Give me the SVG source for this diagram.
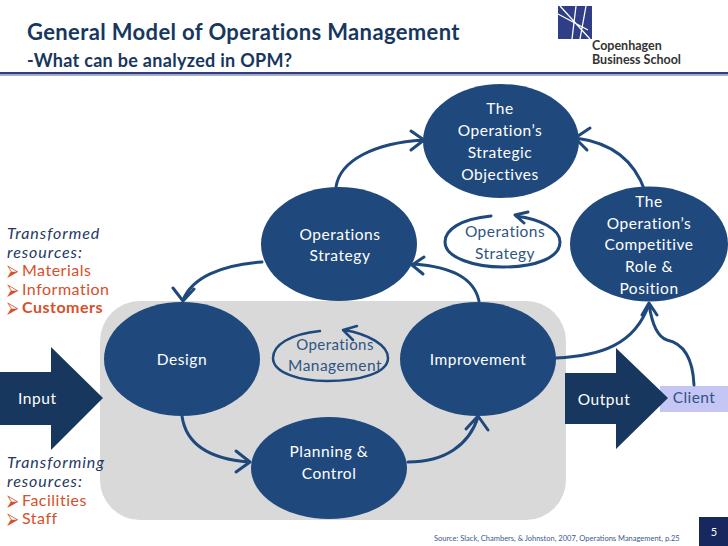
<svg xmlns="http://www.w3.org/2000/svg" width="728" height="546" viewBox="0 0 728 546">
<style>
text{font-family:"Lato","Open Sans","Liberation Sans",sans-serif}
.n{fill:#1f497d}
.w{fill:#fff;font-size:15.5px;text-anchor:middle;letter-spacing:.55px}
.d{fill:#2f5583;font-size:15.5px;text-anchor:middle;letter-spacing:.45px}
.c{fill:none;stroke:#1f497d;stroke-width:3;stroke-linecap:round;stroke-linejoin:round}
.o{fill:#d6502a;font-size:16px;letter-spacing:.5px}
.i{fill:#1f3864;font-size:16px;font-style:italic;letter-spacing:.95px}
.t{fill:#17375e;font-weight:700}
</style>
<rect width="728" height="546" fill="#fff"/>
<g id="header">
<text x="27" y="40" class="t" font-size="22" letter-spacing=".37">General Model of Operations Management</text>
<text x="27" y="67" class="t" font-size="18" letter-spacing=".3">-What can be analyzed in OPM?</text>
<rect x="0" y="72" width="728" height="2.500" fill="#2f3e7e"/>
<rect x="0" y="74.500" width="728" height="1.500" fill="#a9b2cf"/>
</g>
<g id="logo">
<rect x="558" y="6" width="34" height="33" fill="#2f3e86"/>
<path d="M560 6L590 39M558 14L588 30M576 6L572 39M586 6L580 39" stroke="#fff" stroke-width="1.300" fill="none"/>
<text x="592" y="50" font-size="12.500" font-weight="700" fill="#333">Copenhagen</text>
<text x="592" y="64" font-size="12.500" font-weight="700" fill="#333">Business School</text>
</g>
<rect id="panel" x="100" y="301" width="466" height="219" rx="40" fill="#d9d9d9"/>
<g id="input"><path d="M0 372H51V347L103 398L51 450V425H0Z" fill="#17375e"/><text x="18" y="404" class="w" style="text-anchor:start">Input</text></g>
<g id="client"><rect x="660" y="386" width="68" height="26" fill="#c6c6f5"/><text x="694" y="403" class="d">Client</text></g>
<g id="output"><path d="M565 373H616V348L668 398L616 449V424H565Z" fill="#17375e"/><text x="604" y="405" class="w">Output</text></g>
<g id="objectives"><ellipse cx="501" cy="141" rx="78" ry="57" class="n"/><text class="w" x="500" y="114">The</text><text class="w" x="500" y="136">Operation’s</text><text class="w" x="500" y="158">Strategic</text><text class="w" x="500" y="180">Objectives</text></g>
<g id="strategy"><ellipse cx="339" cy="244" rx="78" ry="57" class="n"/><text class="w" x="340" y="240">Operations</text><text class="w" x="340" y="261">Strategy</text></g>
<g id="competitive"><ellipse cx="649" cy="244" rx="79" ry="57.500" class="n"/><text class="w" x="649" y="207">The</text><text class="w" x="649" y="229">Operation’s</text><text class="w" x="649" y="250">Competitive</text><text class="w" x="649" y="272">Role &amp;</text><text class="w" x="649" y="294">Position</text></g>
<g id="design"><ellipse cx="182" cy="359" rx="78" ry="57" class="n"/><text class="w" x="182" y="365">Design</text></g>
<g id="improvement"><ellipse cx="478" cy="359" rx="78" ry="57" class="n"/><text class="w" x="478" y="365">Improvement</text></g>
<g id="planning"><ellipse cx="329" cy="468" rx="78" ry="51" class="n"/><text class="w" x="329" y="457">Planning &amp;</text><text class="w" x="329" y="479">Control</text></g>
<g id="connectors" class="c">
<path d="M336 187C340 160 375 143 423 140M411 131L424 140L411 150"/>
<path d="M645 191C634 160 612 143 576 138M590 128L575 138L587 150"/>
<path d="M262 262C220 265 192 278 183 300M173 288L183 301L194 289"/>
<path d="M182 416C186 445 210 459 249 462M236 451L250 462L236 472"/>
<path d="M408 462C445 462 469 445 478 417M466 429L478 416L488 430"/>
<path d="M479 301C474 278 452 267 414 264M424 257L412 265L423 274"/>
<path d="M556 358C600 356 635 345 649 304"/>
<path d="M694 385C693 362 686 344 667 340C658 337 652 325 649 304M642 315L649 303L657 315"/>
<path d="M491 216C460 219 445 230 445 242C445 258 475 267 503 267C535 267 560 258 560 242C560 229 540 219 516 216M528 212L515 215L524 223"/>
<path d="M320 331C290 334 273 345 273 358C273 373 300 381 327 381C360 381 388 373 388 358C388 345 368 334 344 330M357 326L343 330L353 340" stroke-width="2.500"/>
</g>
<text class="d" x="505" y="237">Operations</text>
<text class="d" x="505" y="259">Strategy</text>
<text class="d" x="335" y="350" style="font-size:15px">Operations</text>
<text class="d" x="335" y="371">Management</text>
<g id="transformed">
<text class="i" x="7" y="239">Transformed</text><text class="i" x="7" y="258">resources:</text>
<text class="o" x="7" y="276">⮚<tspan x="22">Materials</tspan></text>
<text class="o" x="7" y="295">⮚<tspan x="22">Information</tspan></text>
<text class="o" x="7" y="313">⮚<tspan x="22" font-weight="700">Customers</tspan></text>
</g>
<g id="transforming">
<text class="i" x="7" y="468">Transforming</text><text class="i" x="7" y="487">resources:</text>
<text class="o" x="7" y="506">⮚<tspan x="22">Facilities</tspan></text>
<text class="o" x="7" y="524">⮚<tspan x="22">Staff</tspan></text>
</g>
<text id="source" x="434" y="541" font-size="7.500" fill="#3b5a8a">Source: Slack, Chambers, &amp; Johnston, 2007, Operations Management, p.25</text>
<g id="page"><rect x="699" y="517" width="29" height="29" fill="#17285f"/><text x="714" y="536" fill="#fff" font-size="11" text-anchor="middle">5</text></g>
</svg>
